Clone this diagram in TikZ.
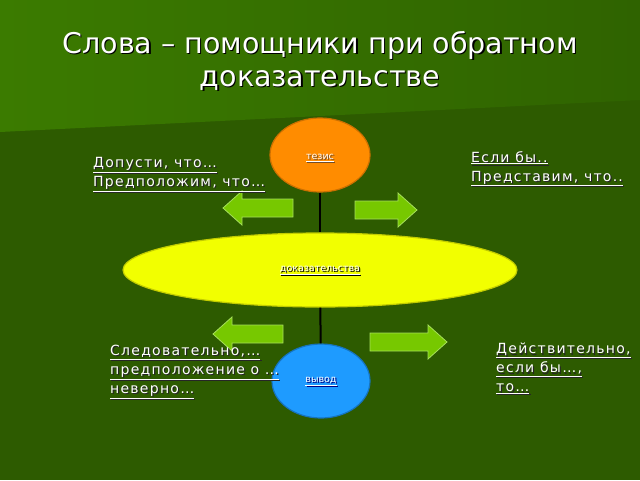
\documentclass[tikz,border=0pt]{standalone}
\usepackage{fontspec}
\setmainfont{DejaVu Sans}
\usetikzlibrary{shapes.geometric}
\definecolor{bgdark}{HTML}{2D5B00}
\definecolor{bglight}{HTML}{3B7B00}
\definecolor{bgmid}{HTML}{2F6300}
\definecolor{arrowfill}{HTML}{77C800}
\definecolor{arrowline}{HTML}{A6E05A}
\definecolor{thfill}{HTML}{FF8C00}
\definecolor{pffill}{HTML}{F2FF00}
\definecolor{clfill}{HTML}{1E9BFF}
% white text with a dark shadow under it
\newcommand{\shtext}[5][black!85]{%
\node[#1,#4,inner sep=0pt] at ([shift={(1.2,1.2)}]#3) {#5};
\node[white,#4,inner sep=0pt] (#2) at (#3) {#5};}
\begin{document}
\begin{tikzpicture}[x=1pt,y=-1pt]
% Styles
\tikzstyle{oval}=[ellipse,draw,line width=1.2pt,inner sep=0pt]
\tikzstyle{hint}=[anchor=north west,align=left,font=\fontsize{14}{19}\selectfont\addfontfeatures{LetterSpace=9}]

% background
\useasboundingbox (0,0) rectangle (640,480);
\fill[bgdark] (0,0) rectangle (640,480);
\shade[left color=bglight,right color=bgmid] (0,0) -- (640,0) -- (640,100) -- (0,132) -- cycle;

% title
\shtext[black]{title}{320,61}{align=center,font=\fontsize{28.5}{33}\selectfont}{Слова – помощники при обратном\\ доказательстве}

% draw the nodes
\node[oval,fill=thfill,draw=thfill!80!black,minimum width=100,minimum height=74] (thesis) at (320,155) {};
\node[oval,fill=pffill,draw=pffill!80!black,minimum width=394,minimum height=74] (proof) at (320,270) {};
\node[oval,fill=clfill,draw=clfill!75!black,minimum width=98,minimum height=74] (concl) at (321,381) {};
\draw[line width=2pt] (thesis) -- (proof);
\draw[line width=2pt] (proof) -- (concl);

\shtext[brown!60!black]{thesisname}{320,158}{font=\fontsize{9.5}{11}\selectfont}{\underline{тезис}}
\shtext[black]{proofname}{proof.center}{font=\fontsize{9.5}{11}\selectfont}{\underline{доказательства}}
\shtext[blue!50!black]{conclname}{concl.center}{font=\fontsize{9.5}{11}\selectfont}{\underline{вывод}}

% the arrows
\foreach \xa / \xb / \yc / \dd in {293/223/208/-1, 355/417/210/1, 283/213/334/-1, 370/447/342/1} {
\draw[fill=arrowfill,draw=arrowline,line width=0.8pt,line join=miter]
(\xa,\yc-9) -- ({\xb-\dd*19},\yc-9) -- ({\xb-\dd*19},\yc-17) -- (\xb,\yc)
-- ({\xb-\dd*19},\yc+17) -- ({\xb-\dd*19},\yc+9) -- (\xa,\yc+9) -- cycle;
}

% the words
\shtext{assume}{93,157}{hint}{\underline{Допусти, что…}\\\underline{Предположим, что…}}
\shtext{ifonly}{471,151}{hint}{\underline{Если бы..}\\\underline{Представим, что..}}
\shtext{hence}{110,345}{hint}{\underline{Следовательно,…}\\\underline{предположение о …}\\\underline{неверно…}}
\shtext{indeed}{496,343}{hint}{\underline{Действительно,}\\\underline{если бы…,}\\\underline{то…}}

\end{tikzpicture}
\end{document}
